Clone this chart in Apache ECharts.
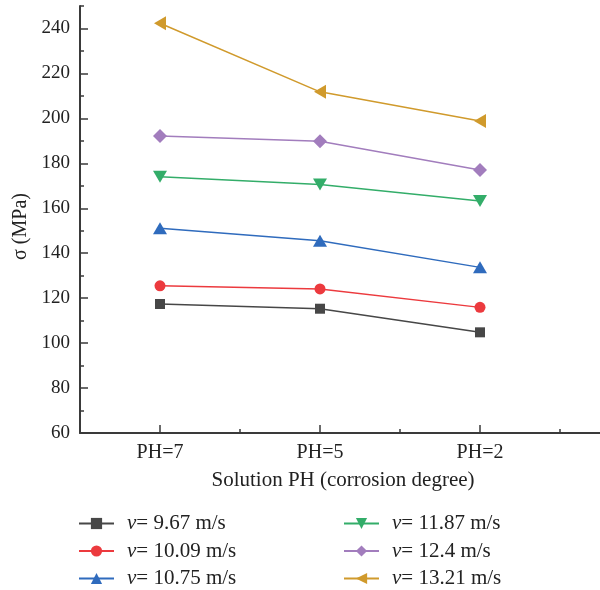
<!DOCTYPE html>
<html>
<head>
<meta charset="utf-8">
<script src="https://cdn.jsdelivr.net/npm/echarts@6/dist/echarts.min.js"></script>
<style>
  html, body { margin: 0; padding: 0; background: #fff; }
  #chart { width: 600px; height: 590px; }
</style>
</head>
<body>
<div id="chart"></div>
<script>
// Corrosion conditions along the x axis
const categories = ['PH=7', 'PH=5', 'PH=2'];
// Flow velocities (m/s), one line each
const velocities = ['9.67', '10.09', '10.75', '11.87', '12.4', '13.21'];
// Strength σ (MPa) per velocity, in category order
const s967 = [117.4, 115.3, 104.8];
const s1009 = [125.5, 124.1, 115.9];
const s1075 = [151.1, 145.5, 133.7];
const s1187 = [174.0, 170.6, 163.2];
const s124 = [192.1, 189.8, 177.0];
const s1321 = [242.3, 211.8, 198.8];
// Y tick labels
const yTicks = [60, 80, 100, 120, 140, 160, 180, 200, 220, 240];

const FONT = '"Liberation Serif", "DejaVu Serif", serif';
const AXIS = '#3a3a3a';
const TEXT = '#222';

// each category sits on an odd slot of the numeric x axis
const xPos = categories.map((_, i) => 2 * i + 1);
const yMinor = yTicks.map(v => v + 10);

const styles = [
  { color: '#474747', symbol: 'rect', size: 10, rotate: 0 },
  { color: '#ec3a3e', symbol: 'circle', size: 11, rotate: 0 },
  { color: '#2f6bbd', symbol: 'triangle', size: [14, 12], rotate: 0 },
  { color: '#33ad69', symbol: 'triangle', size: [14, 12], rotate: 180 },
  { color: '#a27dbd', symbol: 'diamond', size: [14, 14], rotate: 0 },
  { color: '#d09a2c', symbol: 'triangle', size: [14, 12], rotate: 90 }
];
const values = [s967, s1009, s1075, s1187, s124, s1321];
const names = velocities.map(v => '{i|ν}= ' + v + ' m/s');

const series = values.map((vals, k) => ({
  name: names[k],
  type: 'line',
  data: vals.map((v, i) => [xPos[i], v]),
  symbol: styles[k].symbol,
  symbolSize: styles[k].size,
  symbolRotate: styles[k].rotate,
  lineStyle: { color: styles[k].color, width: 1.5 },
  itemStyle: { color: styles[k].color },
  emphasis: { disabled: true },
  animation: false
}));

const legendText = {
  fontFamily: FONT, fontSize: 21, color: TEXT, lineHeight: 20, padding: [0, 0, 0, 8],
  rich: { i: { fontFamily: FONT, fontSize: 21, fontStyle: 'italic', color: TEXT, lineHeight: 20 } }
};
function legend(left, list) {
  return {
    left: left, top: 508, height: 82, orient: 'vertical',
    itemWidth: 35, itemHeight: 14, itemGap: 6.5,
    textStyle: legendText, data: list, selectedMode: false
  };
}

const chart = echarts.init(document.getElementById('chart'), null, { renderer: 'canvas' });
chart.setOption({
  animation: false,
  backgroundColor: '#fff',
  grid: { left: 80, right: 0, top: 6, bottom: 157, containLabel: false },
  xAxis: [
    {
      type: 'value', min: 0, max: 6.5, interval: 1,
      axisLine: { lineStyle: { color: AXIS, width: 2 } },
      axisTick: { inside: true, length: 8, customValues: xPos, lineStyle: { color: AXIS, width: 1.5 } },
      axisLabel: {
        customValues: xPos, margin: 10,
        formatter: v => categories[(v - 1) / 2] || '',
        fontFamily: FONT, fontSize: 20, color: TEXT
      },
      splitLine: { show: false },
      name: 'Solution PH (corrosion degree)', nameLocation: 'middle', nameGap: 37,
      nameTextStyle: { fontFamily: FONT, fontSize: 21, color: TEXT, padding: [0, 0, 0, 6] }
    },
    {
      type: 'value', min: 0, max: 6.5, position: 'bottom',
      axisLine: { show: false },
      axisTick: { inside: true, length: 4, customValues: xPos.map(v => v + 1), lineStyle: { color: AXIS, width: 1.5 } },
      axisLabel: { show: false },
      splitLine: { show: false }
    }
  ],
  yAxis: [
    {
      type: 'value', min: 60, max: 250, interval: 20,
      axisLine: { show: true, lineStyle: { color: AXIS, width: 2 } },
      axisTick: { inside: true, length: 8, customValues: yTicks, lineStyle: { color: AXIS, width: 1.5 } },
      axisLabel: { customValues: yTicks, margin: 10, fontFamily: FONT, fontSize: 19, color: TEXT },
      splitLine: { show: false },
      name: 'σ (MPa)', nameLocation: 'middle', nameGap: 48, nameRotate: 90,
      nameTextStyle: { fontFamily: FONT, fontSize: 20, color: TEXT, padding: [0, 0, 0, -14] }
    },
    {
      type: 'value', min: 60, max: 250, position: 'left',
      axisLine: { show: false },
      axisTick: { show: true, inside: true, length: 4, customValues: yMinor, lineStyle: { color: AXIS, width: 1.5 } },
      axisLabel: { show: false },
      splitLine: { show: false }
    }
  ],
  legend: [legend(73, names.slice(0, 3)), legend(338, names.slice(3))],
  series: series
});
</script>
</body>
</html>
